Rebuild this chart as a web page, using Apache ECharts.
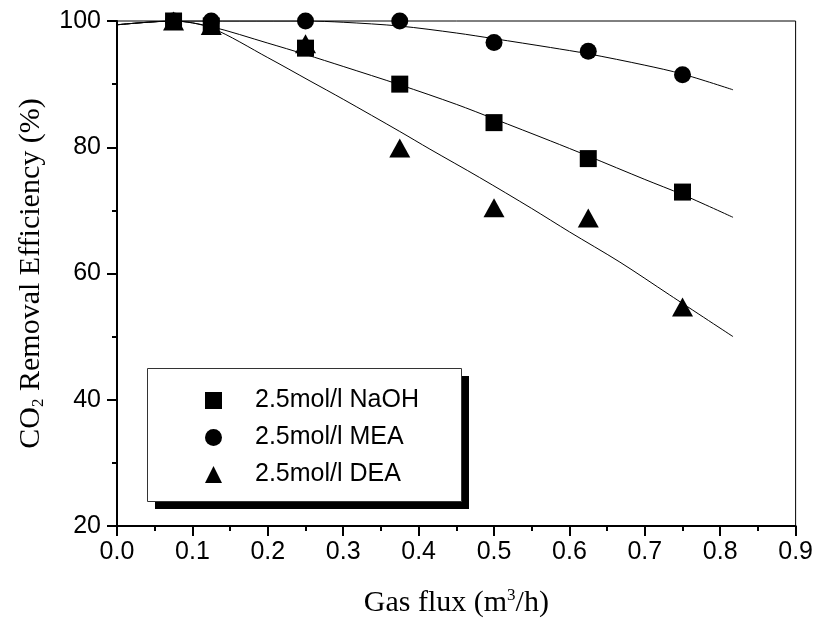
<!DOCTYPE html>
<html><head><meta charset="utf-8">
<script src="https://cdn.jsdelivr.net/npm/echarts@6/dist/echarts.min.js"></script>
<style>html,body{margin:0;padding:0;background:#fff}#c{width:816px;height:623px}</style>
</head><body><div id="c"></div>
<script>
// ---- data ----
const seriesNames = ['2.5mol/l NaOH', '2.5mol/l MEA', '2.5mol/l DEA'];
const flux = [0.075, 0.125, 0.25, 0.375, 0.5, 0.625, 0.75];
const naoh = [100, 99.2, 95.7, 90.0, 83.9, 78.2, 72.9];
const mea  = [100, 100, 100, 100, 96.6, 95.2, 91.5];
const dea  = [100, 99.3, 96.4, 79.9, 70.4, 68.8, 54.7];

// fitted curves
const fitNaohX = [0, 0.075, 0.125, 0.2, 0.25, 0.3, 0.375, 0.45, 0.5, 0.575, 0.625, 0.7, 0.75, 0.817];
const fitNaohY = [99.4, 100, 99.1, 96.5, 94.7, 92.8, 89.9, 86.8, 84.5, 81.0, 78.6, 74.9, 72.5, 68.9];
const fitMeaX  = [0, 0.075, 0.25, 0.3, 0.375, 0.45, 0.5, 0.575, 0.625, 0.7, 0.75, 0.817];
const fitMeaY  = [99.4, 100, 100, 99.8, 99.2, 98.1, 97.2, 95.8, 94.8, 93.0, 91.6, 89.1];
const fitDeaX  = [0, 0.075, 0.125, 0.2, 0.256, 0.3, 0.375, 0.415, 0.481, 0.55, 0.6, 0.667, 0.733, 0.817];
const fitDeaY  = [99.4, 100, 98.9, 94.2, 90.5, 87.6, 82.5, 79.7, 75.2, 70.3, 66.6, 61.8, 56.6, 50.0];

const xMin = 0, xMax = 0.9, xStep = 0.1;
const yMin = 20, yMax = 100, yStep = 20;

// ---- build ----
const zip = (xs, ys) => xs.map((x, i) => [x, ys[i]]);
const SANS = '"Liberation Sans", Arial, sans-serif';
const SERIF = '"Liberation Serif", "Times New Roman", serif';
const symbols = ['rect', 'circle', 'triangle'];
const sizes = [17, 17, [21, 19]];
const values = [naoh, mea, dea];

const scatterSeries = seriesNames.map((n, i) => ({
  name: n, type: 'scatter', data: zip(flux, values[i]),
  symbol: symbols[i], symbolSize: sizes[i],
  itemStyle: { color: '#000', opacity: 1 }, z: 5
}));
const fits = [zip(fitNaohX, fitNaohY), zip(fitMeaX, fitMeaY), zip(fitDeaX, fitDeaY)];
const lineSeries = fits.map(d => ({
  type: 'line', data: d, showSymbol: false, symbol: 'none', smooth: 0.3,
  lineStyle: { color: '#000', width: 1 }, z: 3, silent: true
}));

const chart = echarts.init(document.getElementById('c'), null, { renderer: 'canvas' });
chart.setOption({
  animation: false,
  backgroundColor: '#fff',
  grid: { left: 117, right: 20, top: 21, bottom: 95, show: true, borderColor: '#000', borderWidth: 1, backgroundColor: 'transparent' },
  xAxis: {
    type: 'value', min: xMin, max: xMax, interval: xStep,
    axisLine: { lineStyle: { color: '#000', width: 2 } },
    axisTick: { inside: false, length: 10, lineStyle: { color: '#000', width: 2 } },
    minorTick: { show: true, splitNumber: 2, length: 5, lineStyle: { color: '#000', width: 2 } },
    splitLine: { show: false },
    axisLabel: { margin: 14, color: '#000', fontSize: 25, fontFamily: SANS, formatter: v => v.toFixed(1) },
    name: 'Gas flux (m{sup|3}/h)', nameLocation: 'middle', nameGap: 61,
    nameTextStyle: { color: '#000', fontSize: 30, fontFamily: SERIF,
      rich: { sup: { fontSize: 17, fontFamily: SERIF, color: '#000', verticalAlign: 'top', padding: [0, 0, 15, 0] } } }
  },
  yAxis: {
    type: 'value', min: yMin, max: yMax, interval: yStep,
    axisLine: { lineStyle: { color: '#000', width: 2 } },
    axisTick: { inside: false, length: 10, lineStyle: { color: '#000', width: 2 } },
    minorTick: { show: true, splitNumber: 2, length: 5, lineStyle: { color: '#000', width: 2 } },
    splitLine: { show: false },
    axisLabel: { margin: 16, color: '#000', fontSize: 25, fontFamily: SANS },
    name: 'CO{sub|2} Removal Efficiency (%)', nameLocation: 'middle', nameGap: 70, nameRotate: 90,
    nameTextStyle: { color: '#000', fontSize: 30, fontFamily: SERIF,
      rich: { sub: { fontSize: 17, fontFamily: SERIF, color: '#000', padding: [15, 0, 0, 0] } } }
  },
  graphic: [{
    type: 'rect', left: 155, top: 376, z: 9,
    shape: { width: 314, height: 133 },
    style: { fill: '#000' }
  }, {
    type: 'rect', left: 147, top: 368, z: 10,
    shape: { width: 314, height: 133 },
    style: { fill: '#fff', stroke: '#333', lineWidth: 1 }
  }],
  legend: {
    orient: 'vertical', left: 200, top: 383, z: 20,
    data: seriesNames, itemWidth: 17, itemHeight: 17, itemGap: 12,
    itemStyle: { opacity: 1, color: '#000' },
    textStyle: { color: '#000', fontSize: 25, fontFamily: SANS, lineHeight: 20, padding: [0, 0, 0, 28] },
    selectedMode: false
  },
  series: [...lineSeries, ...scatterSeries]
});
</script></body></html>
